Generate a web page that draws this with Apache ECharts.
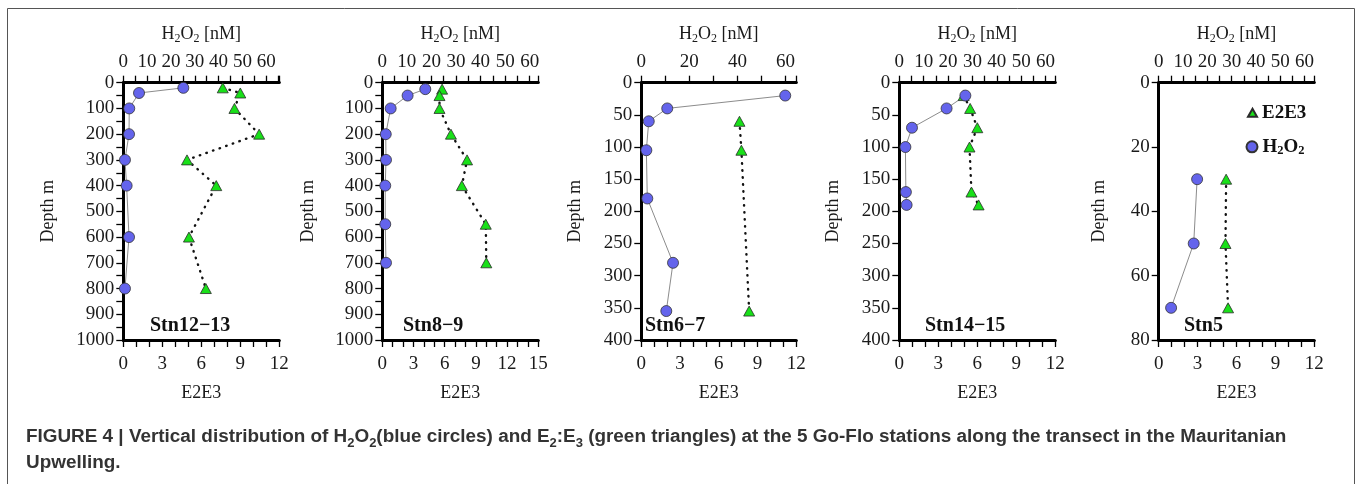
<!DOCTYPE html>
<html>
<head>
<meta charset="utf-8">
<script src="https://cdn.jsdelivr.net/npm/echarts@6/dist/echarts.min.js"></script>
<style>
html, body { margin: 0; padding: 0; background: #fff; }
#main { width: 1357px; height: 484px; }
</style>
</head>
<body>
<div id="main"></div>
<script>
var stations = ['Stn12\u221213', 'Stn8\u22129', 'Stn6\u22127', 'Stn14\u221215', 'Stn5'];

// Stn12-13
var h2o2Depth1 = [20, 40, 100, 200, 300, 400, 600, 800];
var h2o2Value1 = [25.2, 6.6, 2.5, 2.4, 0.7, 1.4, 2.4, 0.7];
var e2e3Depth1 = [20, 40, 100, 200, 300, 400, 600, 800];
var e2e3Value1 = [7.65, 9.0, 8.55, 10.45, 4.9, 7.15, 5.05, 6.35];

// Stn8-9
var h2o2Depth2 = [25, 50, 100, 200, 300, 400, 550, 700];
var h2o2Value2 = [17.5, 10.3, 3.4, 1.4, 1.5, 1.2, 1.2, 1.5];
var e2e3Depth2 = [25, 50, 100, 200, 300, 400, 550, 700];
var e2e3Value2 = [5.75, 5.5, 5.5, 6.6, 8.15, 7.65, 9.95, 10.0];

// Stn6-7
var h2o2Depth3 = [20, 40, 60, 105, 180, 280, 355];
var h2o2Value3 = [59.9, 10.8, 3.1, 2.1, 2.5, 13.2, 10.4];
var e2e3Depth3 = [60, 105, 355];
var e2e3Value3 = [7.6, 7.75, 8.35];

// Stn14-15
var h2o2Depth4 = [20, 40, 70, 100, 170, 190];
var h2o2Value4 = [27.1, 19.4, 5.2, 2.5, 2.7, 3.0];
var e2e3Depth4 = [20, 40, 70, 100, 170, 190];
var e2e3Value4 = [4.95, 5.45, 6.0, 5.4, 5.55, 6.1];

// Stn5
var h2o2Depth5 = [30, 50, 70];
var h2o2Value5 = [15.8, 14.4, 5.1];
var e2e3Depth5 = [30, 50, 70];
var e2e3Value5 = [5.2, 5.15, 5.35];

var h2o2Depth = [h2o2Depth1, h2o2Depth2, h2o2Depth3, h2o2Depth4, h2o2Depth5];
var h2o2Value = [h2o2Value1, h2o2Value2, h2o2Value3, h2o2Value4, h2o2Value5];
var e2e3Depth = [e2e3Depth1, e2e3Depth2, e2e3Depth3, e2e3Depth4, e2e3Depth5];
var e2e3Value = [e2e3Value1, e2e3Value2, e2e3Value3, e2e3Value4, e2e3Value5];

// axis ranges and tick steps
var depthMax = [1000, 1000, 400, 400, 80];
var depthStep = [50, 50, 50, 50, 20];
var depthLabelStep = [100, 100, 50, 50, 20];
var e2e3Max = [12, 15, 12, 12, 12];
var h2o2Max = [65.5, 63.5, 64.5, 64, 64];
var h2o2Step = [5, 5, 10, 5, 5];
var h2o2LabelStep = [10, 10, 20, 10, 10];

// layout
var gridLeft = [123.3, 382.3, 641.3, 899.3, 1158.7];
var gridWidth = [156, 156, 155, 156, 155.6];
var depthNameGap = [66, 65, 57, 57, 50];
var stationX = [150, 403, 645, 925, 1184];

var serif = 'Liberation Serif';
var ink = '#1a1a1a';

function zip(xs, ys) {
    var out = [];
    for (var i = 0; i < xs.length; i++) {
        out.push([xs[i], ys[i]]);
    }
    return out;
}

function stepFormatter(step) {
    return function (v) {
        return Math.abs(v % step) < 1e-6 ? String(v) : '';
    };
}

var axisLineStyle = { show: true, onZero: false, lineStyle: { color: '#000', width: 3 } };
var tickStyle = { show: true, inside: false, length: 7, lineStyle: { color: '#000', width: 1.3 } };

var grids = [], xAxes = [], yAxes = [], series = [], graphics = [];

for (var i = 0; i < 5; i++) {
    grids.push({
        left: gridLeft[i], top: 82.7, width: gridWidth[i], height: 257.3,
        outerBoundsMode: 'none'
    });

    xAxes.push({
        gridIndex: i, type: 'value', position: 'bottom',
        min: 0, max: e2e3Max[i], interval: 1,
        name: 'E2E3', nameLocation: 'middle', nameGap: 44, nameMoveOverlap: false,
        nameTextStyle: { fontFamily: serif, fontSize: 18, color: ink },
        axisLine: axisLineStyle,
        axisTick: tickStyle,
        axisLabel: { interval: 0, margin: 15, fontFamily: serif, fontSize: 19, color: ink, formatter: stepFormatter(3) },
        splitLine: { show: false }
    });

    xAxes.push({
        gridIndex: i, type: 'value', position: 'top',
        min: 0, max: h2o2Max[i], interval: h2o2Step[i],
        name: '{n|H}{s|2}{n|O}{s|2}{n| [nM]}', nameLocation: 'middle', nameGap: 38, nameMoveOverlap: false,
        nameTextStyle: {
            rich: {
                n: { fontFamily: serif, fontSize: 18, lineHeight: 20, color: ink },
                s: { fontFamily: serif, fontSize: 12, lineHeight: 12, verticalAlign: 'bottom', color: ink }
            }
        },
        axisLine: axisLineStyle,
        axisTick: tickStyle,
        axisLabel: { interval: 0, margin: 11, fontFamily: serif, fontSize: 19, color: ink, formatter: stepFormatter(h2o2LabelStep[i]) },
        splitLine: { show: false }
    });

    yAxes.push({
        gridIndex: i, type: 'value', inverse: true,
        min: 0, max: depthMax[i], interval: depthStep[i],
        name: 'Depth m', nameLocation: 'middle', nameGap: depthNameGap[i], nameMoveOverlap: false,
        nameTextStyle: { fontFamily: serif, fontSize: 18, color: ink },
        axisLine: axisLineStyle,
        axisTick: tickStyle,
        axisLabel: { interval: 0, margin: 9, fontFamily: serif, fontSize: 19, color: ink, formatter: stepFormatter(depthLabelStep[i]) },
        splitLine: { show: false }
    });

    series.push({
        name: 'E2E3', type: 'line', xAxisIndex: 2 * i, yAxisIndex: i,
        data: zip(e2e3Value[i], e2e3Depth[i]),
        symbol: 'triangle', symbolSize: [11, 10], clip: false,
        itemStyle: { color: '#19e019', borderColor: '#2a2a2a', borderWidth: 0.8 },
        lineStyle: { color: '#111', width: 2.4, type: [0.5, 6.5], cap: 'round' },
        emphasis: { disabled: true }
    });

    series.push({
        name: 'H2O2', type: 'line', xAxisIndex: 2 * i + 1, yAxisIndex: i,
        data: zip(h2o2Value[i], h2o2Depth[i]),
        symbol: 'circle', symbolSize: 11, clip: false,
        itemStyle: { color: '#6464ec', borderColor: '#333', borderWidth: 0.8 },
        lineStyle: { color: '#8c8c8c', width: 1 },
        emphasis: { disabled: true }
    });

    graphics.push({
        type: 'text', x: stationX[i], y: 325.7, silent: true,
        style: { text: stations[i], font: 'bold 20px "Liberation Serif"', fill: '#111', verticalAlign: 'middle' }
    });
}

// outer frame
graphics.push({
    type: 'rect', silent: true,
    shape: { x: 7.5, y: 8.5, width: 1347, height: 490 },
    style: { fill: 'none', stroke: '#555', lineWidth: 1 }
});

// caption
graphics.push({
    type: 'text', x: 26, y: 424, silent: true,
    style: {
        text: '{b|FIGURE 4 | Vertical distribution of H}{s|2}{b|O}{s|2}{b|(blue circles) and E}{s|2}{b|:E}{s|3}' +
              '{b| (green triangles) at the 5 Go-Flo stations along the transect in the Mauritanian}\n{b|Upwelling.}',
        fill: '#333',
        rich: {
            b: { fontFamily: 'Liberation Sans', fontWeight: 'bold', fontSize: 18.9, lineHeight: 26, fill: '#333' },
            s: { fontFamily: 'Liberation Sans', fontWeight: 'bold', fontSize: 13, lineHeight: 16, verticalAlign: 'bottom', fill: '#333' }
        }
    }
});

var legendRich = {
    b: { fontFamily: serif, fontWeight: 'bold', fontSize: 19, lineHeight: 20, color: '#111' },
    s: { fontFamily: serif, fontWeight: 'bold', fontSize: 12.5, lineHeight: 6, verticalAlign: 'bottom', color: '#111' }
};

var myChart = echarts.init(document.getElementById('main'));

var option = {
    animation: false,
    backgroundColor: '#fff',
    grid: grids,
    xAxis: xAxes,
    yAxis: yAxes,
    legend: [
        {
            data: [{ name: 'E2E3', icon: 'triangle' }],
            orient: 'vertical', left: 1242, top: 98.3,
            itemWidth: 9, itemHeight: 8,
            formatter: '{b|E2E3}',
            textStyle: { rich: legendRich },
            selectedMode: false
        },
        {
            data: [{ name: 'H2O2', icon: 'circle' }],
            orient: 'vertical', left: 1240.5, top: 132.3,
            itemWidth: 11, itemHeight: 11,
            formatter: '{b|H}{s|2}{b|O}{s|2}',
            textStyle: { rich: legendRich },
            selectedMode: false
        }
    ],
    graphic: graphics,
    series: series
};

myChart.setOption(option);
</script>
</body>
</html>
